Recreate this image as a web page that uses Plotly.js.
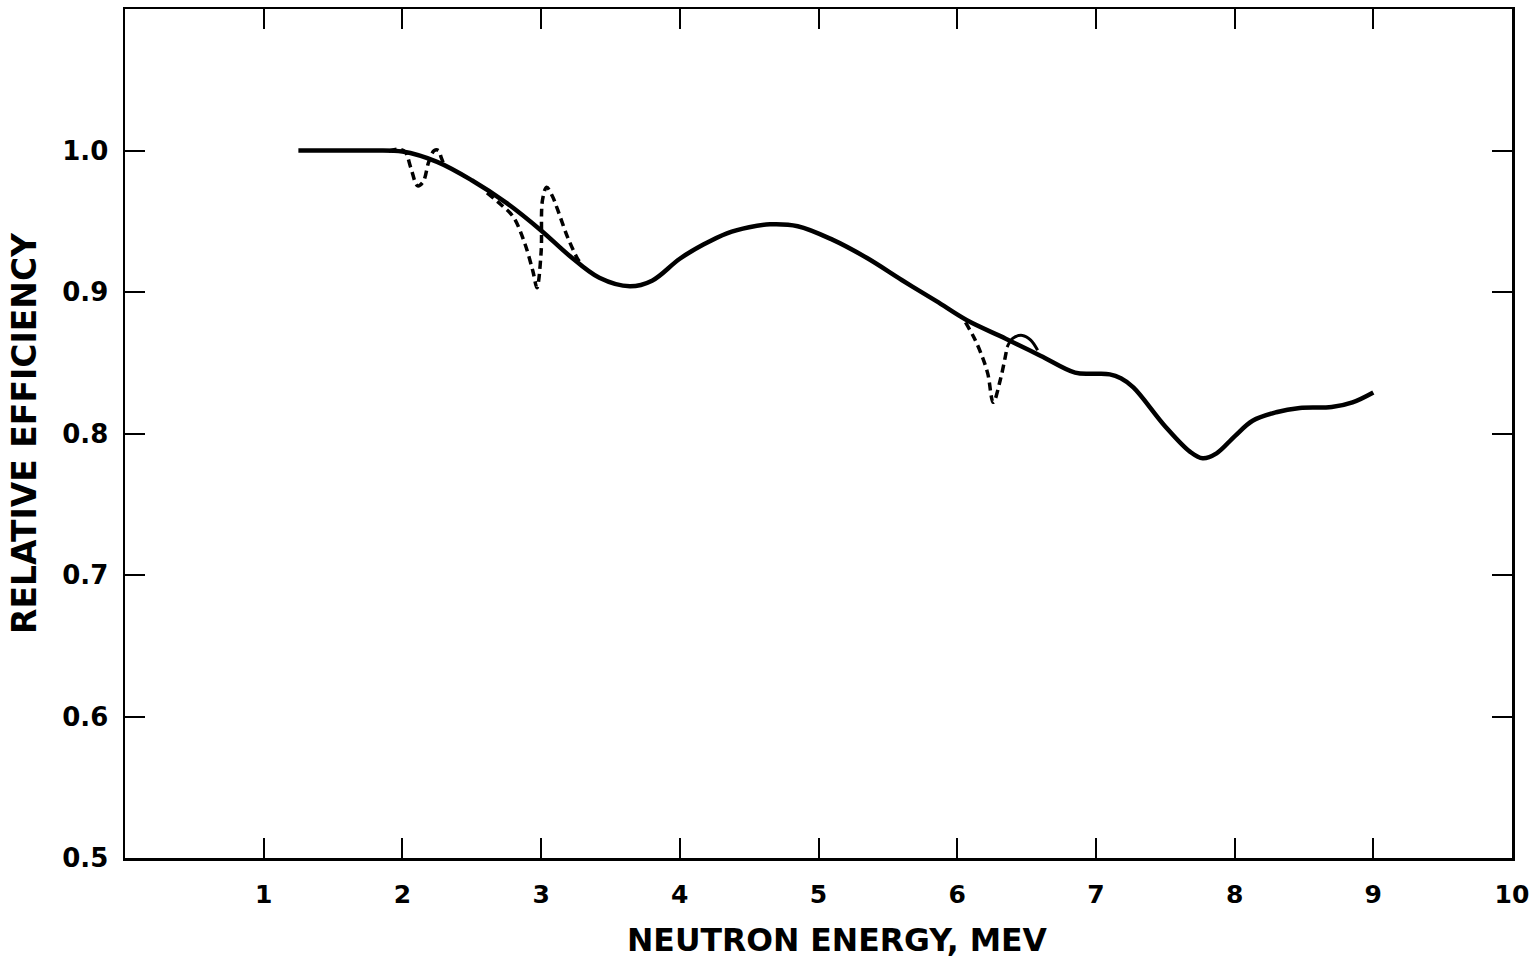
<!DOCTYPE html>
<html>
<head>
<meta charset="utf-8">
<script src="https://cdn.plot.ly/plotly-3.0.1.min.js"></script>
<style>
html,body{margin:0;padding:0;background:#fff;}
#chart{width:1538px;height:962px;}
</style>
</head>
<body>
<div id="chart"></div>
<script>
// Main smooth efficiency curve
const solidX = [1.25, 1.5, 1.75, 2.0, 2.25, 2.5, 2.75, 3.0, 3.2, 3.42, 3.64, 3.8, 4.0, 4.17, 4.34, 4.5, 4.65, 4.85, 5.1, 5.35, 5.6, 5.85, 6.07, 6.35, 6.6, 6.85, 6.98, 7.1, 7.18, 7.27, 7.5, 7.68, 7.77, 7.87, 8.0, 8.13, 8.3, 8.47, 8.7, 8.85, 9.0];
const solidY = [1.0, 1.0, 1.0, 0.9993, 0.992, 0.979, 0.963, 0.9435, 0.926, 0.910, 0.904, 0.908, 0.9235, 0.9335, 0.9415, 0.9458, 0.9478, 0.9465, 0.937, 0.924, 0.9085, 0.8935, 0.880, 0.867, 0.855, 0.843, 0.8422, 0.8418, 0.839, 0.8326, 0.805, 0.787, 0.7825, 0.786, 0.798, 0.809, 0.815, 0.818, 0.8187, 0.822, 0.829];

// Dashed resonance structure near 2 MeV
const dash1X = [1.90, 1.97, 2.02, 2.06, 2.11, 2.15, 2.19, 2.23, 2.26, 2.28, 2.30];
const dash1Y = [0.9995, 1.001, 0.999, 0.988, 0.975, 0.978, 0.992, 1.0, 1.0, 0.995, 0.990];

// Dashed resonance structure near 3 MeV
const dash2X = [2.61, 2.72, 2.80, 2.88, 2.94, 2.97, 3.0, 3.01, 3.04, 3.08, 3.12, 3.19, 3.26, 3.28];
const dash2Y = [0.970, 0.961, 0.953, 0.935, 0.915, 0.903, 0.928, 0.965, 0.974, 0.968, 0.958, 0.939, 0.924, 0.921];

// Dashed resonance structure near 6.3 MeV
const dash3X = [6.06, 6.12, 6.17, 6.22, 6.26, 6.31, 6.36];
const dash3Y = [0.8785, 0.868, 0.857, 0.8425, 0.822, 0.8376, 0.861];

// Thin solid arc after the 6.3 MeV dip
const arcX = [6.36, 6.40, 6.47, 6.53, 6.58];
const arcY = [0.861, 0.8672, 0.8693, 0.866, 0.8588];

const xTicks = [1, 2, 3, 4, 5, 6, 7, 8, 9, 10];
const xTickText = ['1', '2', '3', '4', '5', '6', '7', '8', '9', '10'];
const yTicks = [0.5, 0.6, 0.7, 0.8, 0.9, 1.0];
const yTickText = ['0.5', '0.6', '0.7', '0.8', '0.9', '1.0'];

const xTitle = 'NEUTRON ENERGY, MEV';
const yTitle = 'RELATIVE EFFICIENCY';

const FONT = 'DejaVu Sans, Liberation Sans, sans-serif';

const dashLine = {color: '#000', width: 3.5, dash: '8px,5px', shape: 'spline', smoothing: 1};

const traces = [
  {x: solidX, y: solidY, mode: 'lines', line: {color: '#000', width: 4.5, shape: 'spline', smoothing: 1}, hoverinfo: 'skip'},
  {x: dash1X, y: dash1Y, mode: 'lines', line: dashLine, hoverinfo: 'skip'},
  {x: dash2X, y: dash2Y, mode: 'lines', line: dashLine, hoverinfo: 'skip'},
  {x: dash3X, y: dash3Y, mode: 'lines', line: dashLine, hoverinfo: 'skip'},
  {x: arcX, y: arcY, mode: 'lines', line: {color: '#000', width: 3, shape: 'spline', smoothing: 1}, hoverinfo: 'skip'}
];

const layout = {
  width: 1538, height: 962,
  margin: {l: 125, r: 26, t: 9, b: 104, pad: 0},
  paper_bgcolor: '#fff', plot_bgcolor: '#fff',
  showlegend: false,
  font: {family: FONT, color: '#000'},
  xaxis: {
    range: [0, 10], tickvals: xTicks, ticktext: xTickText,
    ticks: 'inside', ticklen: 20, tickwidth: 2, tickcolor: '#000',
    showline: true, linewidth: 2.5, linecolor: '#000', mirror: 'allticks',
    showgrid: false, zeroline: false, automargin: false,
    tickfont: {family: FONT, size: 25, weight: 'bold', color: '#000'},
    ticklabelstandoff: 12
  },
  yaxis: {
    range: [0.5, 1.1], tickvals: yTicks, ticktext: yTickText,
    ticks: 'inside', ticklen: 20, tickwidth: 2, tickcolor: '#000',
    showline: true, linewidth: 2.5, linecolor: '#000', mirror: 'allticks',
    showgrid: false, zeroline: false, automargin: false,
    tickfont: {family: FONT, size: 26, weight: 'bold', color: '#000'},
    ticklabelstandoff: 9,
    title: {text: yTitle, font: {family: FONT, size: 33, weight: 'bold', color: '#000'}, standoff: 16}
  },
  annotations: [{
    text: xTitle, xref: 'paper', yref: 'paper', x: 0.514, y: 0,
    xanchor: 'center', yanchor: 'top', yshift: -62, showarrow: false,
    font: {family: FONT, size: 31.5, weight: 'bold', color: '#000'}
  }]
};

Plotly.newPlot('chart', traces, layout, {staticPlot: true, displayModeBar: false});
</script>
</body>
</html>
